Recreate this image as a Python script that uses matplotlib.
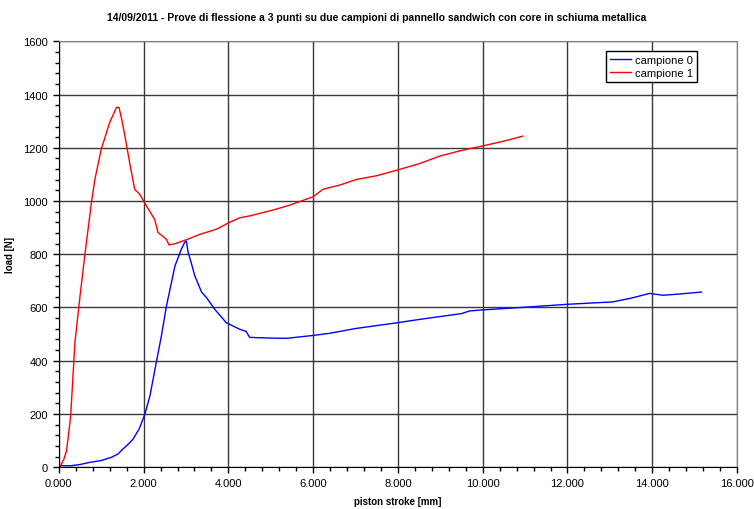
import numpy as np
import matplotlib.pyplot as plt
from matplotlib.ticker import MultipleLocator, FuncFormatter

plt.rcParams['font.family'] = ['Liberation Sans', 'DejaVu Sans']

# campione 0
stroke_0 = [0.0, 0.05, 0.26, 0.5, 0.73, 1.0, 1.24, 1.4, 1.51, 1.63, 1.75, 1.9, 2.03, 2.15, 2.3,
            2.42, 2.54, 2.74, 2.89, 2.97, 3.01, 3.05, 3.12, 3.21, 3.37, 3.48, 3.68, 3.95, 4.27,
            4.42, 4.5, 4.62, 5.0, 5.37, 6.0, 6.39, 7.0, 7.5, 8.0, 8.5, 9.0, 9.5, 9.69, 10.0,
            11.0, 12.0, 13.07, 13.5, 13.94, 14.25, 14.6, 15.16]
load_0 = [0, 6, 5, 10, 18, 25, 37, 50, 68, 85, 105, 145, 199, 268, 394,
          493, 606, 756, 819, 845, 850, 807, 770, 718, 657, 638, 593, 543, 518,
          510, 488, 487, 485, 484, 495, 503, 521, 532, 543, 555, 566, 577, 587, 591,
          601, 612, 621, 635, 653, 646, 650, 658]

# campione 1
stroke_1 = [0.0, 0.05, 0.12, 0.18, 0.22, 0.28, 0.38, 0.5, 0.61, 0.77, 0.85, 1.0, 1.2, 1.3, 1.36,
            1.42, 1.48, 1.56, 1.67, 1.79, 1.85, 1.91, 2.0, 2.07, 2.26, 2.34, 2.45, 2.54, 2.6,
            2.75, 2.93, 3.1, 3.33, 3.72, 4.03, 4.27, 4.5, 5.05, 5.44, 6.0, 6.23, 6.63, 7.02,
            7.5, 8.0, 8.5, 8.99, 9.5, 10.0, 10.5, 10.95]
load_1 = [0, 8, 30, 61, 110, 193, 469, 642, 792, 995, 1081, 1194, 1295, 1330, 1352,
          1352, 1310, 1244, 1145, 1044, 1035, 1025, 1000, 981, 931, 882, 868, 856, 835,
          840, 850, 860, 875, 894, 920, 937, 944, 966, 984, 1016, 1044, 1060, 1081,
          1095, 1117, 1140, 1169, 1190, 1207, 1225, 1244]

fig = plt.figure(figsize=(7.54, 5.10), dpi=100)
ax = fig.add_axes([0.078, 0.082, 0.8995, 0.835])

ax.plot(stroke_0, load_0, color='#0000ff', lw=1.0, label='campione 0')
ax.plot(stroke_1, load_1, color='#ff0000', lw=1.0, label='campione 1')

ax.set_xlim(0, 16)
ax.set_ylim(0, 1600)
ax.xaxis.set_major_locator(MultipleLocator(2))
ax.xaxis.set_minor_locator(MultipleLocator(0.4))
ax.yaxis.set_major_locator(MultipleLocator(200))
ax.yaxis.set_minor_locator(MultipleLocator(40))
ax.xaxis.set_major_formatter(FuncFormatter(lambda v, p: '%.3f' % v))
ax.tick_params(which='both', direction='out', labelsize=8, color='black', width=1)
ax.tick_params(which='major', length=4, pad=4)
ax.tick_params(which='minor', length=3)

ax.grid(True, which='major', color='#3a3a3a', lw=1)
ax.set_axisbelow(True)
for s in ['top', 'right']:
    ax.spines[s].set_color('#808080')
for s in ['left', 'bottom']:
    ax.spines[s].set_color('black')

ax.set_xlabel('piston stroke [mm]', fontsize=7, fontweight='bold')
ax.xaxis.set_label_coords(0.5, -0.068)
ax.set_ylabel('load [N]', fontsize=7, fontweight='bold')
ax.yaxis.set_label_coords(-0.065, 0.5)
fig.suptitle('14/09/2011 - Prove di flessione a 3 punti su due campioni di pannello sandwich con core in schiuma metallica',
             fontsize=7.5, fontweight='bold', y=0.975)

leg = ax.legend(loc='upper right', bbox_to_anchor=(0.941, 0.977), fontsize=8, fancybox=False,
                framealpha=1, edgecolor='black', handlelength=1.9, borderaxespad=0,
                labelspacing=0.25, handletextpad=0.4, borderpad=0.35)
leg.get_frame().set_linewidth(1)

fig.savefig('out.png', dpi=100)
